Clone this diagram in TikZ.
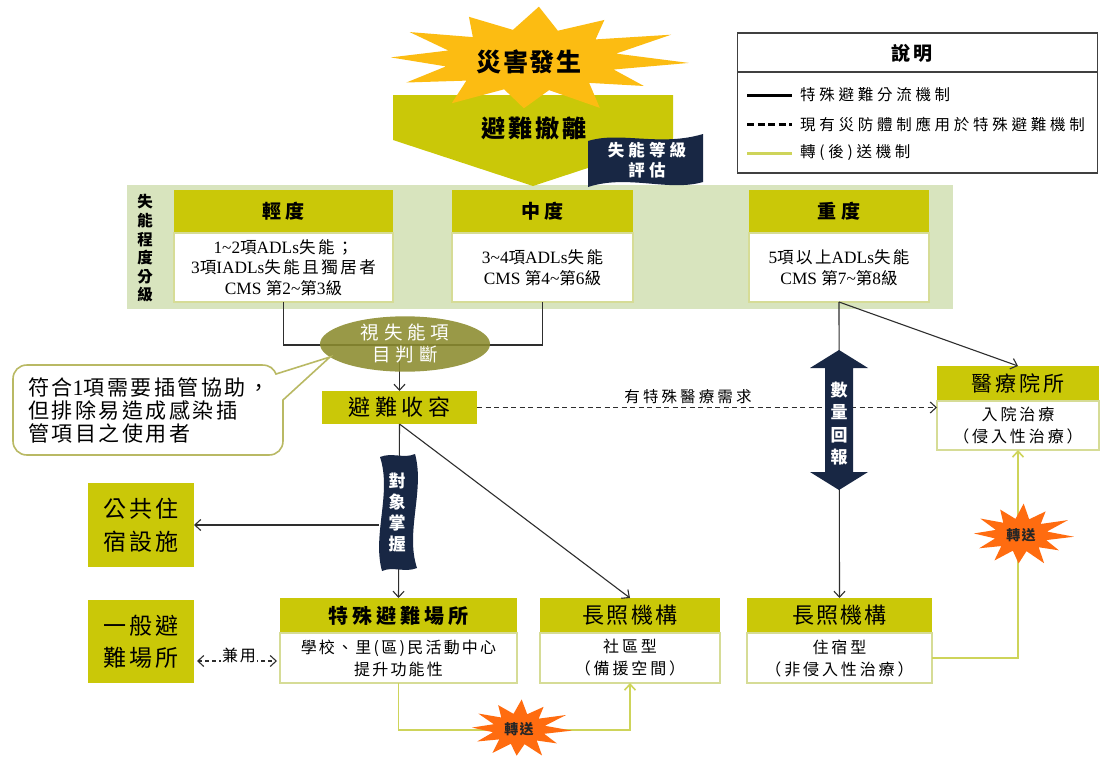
\documentclass[tikz,border=0pt]{standalone}
\usepackage{fontspec}
\setmainfont{Noto Sans CJK TC}
\newfontfamily\latfont{Liberation Serif}[Scale=1.05]
\usetikzlibrary{arrows.meta,shapes.geometric}
\newcommand\fs[3]{\fontsize{#1}{#2}\selectfont\addfontfeatures{LetterSpace=#3}}
\newcommand\burstshape[6]{%
  \fill[#5] plot[samples at={0,...,23}, variable=\k]
   ({#1+#3*ifthenelse(mod(\k,2)==0,1-0.15*abs(sin(\k*41)),#6)*cos(\k*15+3)},
    {#2+#4*ifthenelse(mod(\k,2)==0,1-0.15*abs(sin(\k*41)),#6)*sin(\k*15+3)}) -- cycle;}
\definecolor{oy}{RGB}{202,200,8}
\definecolor{panelg}{RGB}{216,228,190}
\definecolor{bline}{RGB}{214,220,150}
\definecolor{ellc}{RGB}{140,140,46}
\definecolor{navy}{RGB}{24,39,68}
\definecolor{burstY}{RGB}{252,188,18}
\definecolor{burstO}{RGB}{255,108,16}
\definecolor{tline}{RGB}{206,212,90}
\definecolor{callb}{RGB}{185,185,100}
\begin{document}
\begin{tikzpicture}[x=1pt,y=-1pt,
  hdr/.style={fill=oy, inner sep=0pt, outer sep=0pt, align=center},
  bodyb/.style={fill=white, draw=bline, line width=1.2pt, inner sep=0pt, outer sep=0pt, align=center},
  conn/.style={draw=black!82, line width=1.1pt},
  arr/.style={conn, -{Straight Barb[length=6pt,width=11pt]}},
  dashc/.style={conn, dash pattern=on 5pt off 3.5pt},
  tarr/.style={draw=tline, line width=1.6pt, -{Straight Barb[length=6pt,width=11pt]}},
  wtxt/.style={text=white, inner sep=0pt, align=center},
  burstlbl/.style={font=\bfseries\fs{14}{16}{10}, text=black!85, inner sep=0pt}]
\useasboundingbox (0,0) rectangle (1100,758);
\fill[white] (0,0) rectangle (1100,758);

% legend
\draw[draw=black!75, line width=1.3pt] (737.5,33) rectangle (1097.5,173);
\draw[draw=black!75, line width=1.3pt] (737.5,72) -- (1097.5,72);
\node[font=\bfseries\fs{19}{22}{20}] (legt) at (912,53) {說明};
\draw[line width=3pt, black] (747,95) -- (792,95);
\draw[line width=3pt, black, dash pattern=on 7pt off 3.5pt] (747,124) -- (792,124);
\draw[line width=3pt, tline] (747,153) -- (792,153);
\node[anchor=west, inner sep=0pt, font=\fs{15.5}{18}{24}] (leg1) at (800,95) {特殊避難分流機制};
\node[anchor=west, inner sep=0pt, font=\fs{15.5}{18}{24}] (leg2) at (800,124) {現有災防體制應用於特殊避難機制};
\node[anchor=west, inner sep=0pt, font=\fs{15.5}{18}{24}] (leg3) at (800,153) {轉(後)送機制};

% panel
\fill[panelg] (127,185) rectangle (953,309);

% top arrow + burst
\fill[oy] (393,95) -- (673,95) -- (673,140) -- (533,186) -- (393,140) -- cycle;
\burstshape{531}{60}{158}{56}{burstY}{0.55}
\node[font=\bfseries\fs{25}{28}{6}] (disaster) at (529,62) {災害發生};
\node[font=\bfseries\fs{24}{28}{12}] (evac) at (534,128) {避難撤離};

% assessment banner
\fill[navy] (588,141) .. controls (620,131) and (660,147) .. (703,134) -- (703,182) .. controls (668,192) and (628,174) .. (588,187) -- cycle;
\node[wtxt, font=\bfseries\fs{16.5}{20}{25}] (assess) at (647,160) {失能等級\\評估};

% vertical label
\node[inner sep=0pt, align=center, font=\bfseries\fs{15.5}{18.6}{0}] (vlab) at (145,248.5) {失\\能\\程\\度\\分\\級};

% three levels
\node[hdr, minimum width=219pt, minimum height=43pt, font=\bfseries\fs{19}{22}{25}] (mildh) at (283.5,211.5) {輕度};
\node[bodyb, minimum width=219pt, minimum height=69pt, anchor=north, font=\fs{16.5}{20.5}{15}] (mildb) at (mildh.south)
 {{\latfont 1\textasciitilde2}項{\latfont ADLs}失能；\\{\latfont 3}項{\latfont IADLs}失能且獨居者\\{\latfont CMS\ }第{\latfont 2\textasciitilde}第{\latfont 3}級};
\node[hdr, minimum width=181pt, minimum height=43pt, font=\bfseries\fs{19}{22}{25}] (modh) at (542.5,211.5) {中度};
\node[bodyb, minimum width=181pt, minimum height=69pt, anchor=north, font=\fs{16.5}{20.5}{15}] (modb) at (modh.south)
 {{\latfont 3\textasciitilde4}項{\latfont ADLs}失能\\{\latfont CMS\ }第{\latfont 4\textasciitilde}第{\latfont 6}級};
\node[hdr, minimum width=180pt, minimum height=43pt, font=\bfseries\fs{19}{22}{25}] (sevh) at (839,211.5) {重度};
\node[bodyb, minimum width=180pt, minimum height=69pt, anchor=north, font=\fs{16.5}{20.5}{15}] (sevb) at (sevh.south)
 {{\latfont 5}項以上{\latfont ADLs}失能\\{\latfont CMS\ }第{\latfont 7\textasciitilde}第{\latfont 8}級};

% shelter
\node[hdr, minimum width=155pt, minimum height=33pt, font=\fs{22}{26}{20}] (shelter) at (399.5,407.5) {避難收容};

% merge lines
\coordinate (jy) at (0,345);
\draw[conn] (mildb.south) -- (mildb.south |- jy) -- (modb.south |- jy) -- (modb.south);
\draw[arr] (shelter.north |- jy) -- (shelter.north);
\node[ellipse, fill=ellc, fill opacity=0.88, text opacity=1, text=white, minimum width=170pt, minimum height=52pt, inner sep=0pt, align=center, font=\fs{18.5}{22}{26}] (judge) at (405,344) {視失能項\\目判斷};

% callout
\draw[draw=callb, fill=white, line width=1.6pt] (283,400) -- (283,441) .. controls (283,449) and (277,455) .. (269,455) -- (27,455) .. controls (19,455) and (13,449) .. (13,441) -- (13,379) .. controls (13,371) and (19,365) .. (27,365) -- (262,365) .. controls (270,365) and (274,369) .. (276,374) -- (330,357) -- cycle;
\node[anchor=west, inner sep=0pt, align=left, font=\fs{21}{23}{12}] (calltxt) at (28,410) {符合{\latfont 1}項需要插管協助，\\但排除易造成感染插\\管項目之使用者};

% medical
\node[hdr, minimum width=162pt, minimum height=35pt, font=\fs{21}{25}{14}] (medh) at (1018,383.5) {醫療院所};
\node[bodyb, minimum width=162pt, minimum height=49pt, anchor=north, font=\fs{16}{22}{18}] (medb) at (medh.south) {入院治療\\（侵入性治療）};

% bottom boxes
\node[hdr, minimum width=106pt, minimum height=84pt, font=\fs{23}{33}{13}] (pub) at (141,525) {公共住\\宿設施};
\node[hdr, minimum width=106pt, minimum height=83pt, font=\fs{23}{32}{13}] (gen) at (141,641.5) {一般避\\難場所};
\node[hdr, minimum width=237pt, minimum height=35pt, font=\bfseries\fs{20}{24}{20}] (spbh) at (398.5,615.5) {特殊避難場所};
\node[bodyb, minimum width=237pt, minimum height=50pt, anchor=north, font=\fs{16}{22}{14}] (spbb) at (spbh.south) {學校、里(區)民活動中心\\提升功能性};
\node[hdr, minimum width=180pt, minimum height=35pt, font=\fs{22}{26}{10}] (ltc1h) at (630,615.5) {長照機構};
\node[bodyb, minimum width=180pt, minimum height=50pt, anchor=north, font=\fs{16}{22}{18}] (ltc1b) at (ltc1h.south) {社區型\\（備援空間）};
\node[hdr, minimum width=185pt, minimum height=35pt, font=\fs{22}{26}{10}] (ltc2h) at (839.5,615.5) {長照機構};
\node[bodyb, minimum width=185pt, minimum height=50pt, anchor=north, font=\fs{16}{22}{18}] (ltc2b) at (ltc2h.south) {住宿型\\（非侵入性治療）};

% connectors from severe
\draw[arr] (sevb.south) -- (ltc2h.north);
\draw[arr] (sevb.south) -- (medh.north);

% dashed special-medical line
\draw[dashc, -{Straight Barb[length=6pt,width=11pt]}] (shelter.east) -- (shelter.east -| medb.west);
\node[inner sep=0pt, font=\fs{15.5}{18}{20}] (needlbl) at (688,397) {有特殊醫療需求};

% quantity double arrow
\fill[navy] (839,350) -- (868,368) -- (853,368) -- (853,472) -- (868,472) -- (839,490) -- (810,472) -- (825,472) -- (825,368) -- (810,368) -- cycle;
\node[wtxt, font=\bfseries\fs{17}{22.3}{0}] (qty) at (839,423.5) {數\\量\\回\\報};

% shelter outgoing
\draw[arr] (shelter.south) -- (spbh.north);
\draw[arr] (shelter.south) -- (ltc1h.north);
\fill[navy] (380,457) .. controls (392,452) and (404,459) .. (415,454) .. controls (425,490) and (405,532) .. (417,568) .. controls (405,573) and (393,566) .. (382,571) .. controls (372,535) and (392,493) .. (380,457) -- cycle;
\node[wtxt, minimum width=36pt, minimum height=112pt, font=\bfseries\fs{17}{21}{0}] (tgt) at (397,512.5) {對\\象\\掌\\握};
\draw[arr] (tgt.west |- pub.east) -- (pub.east);

% shared use
\coordinate (sy) at (0,661);
\draw[conn, dash pattern=on 4pt off 3pt, {Straight Barb[length=6pt,width=11pt]}-{Straight Barb[length=6pt,width=11pt]}] ([xshift=3pt]gen.east |- sy) -- ([xshift=-3pt]spbh.west |- sy);
\node[fill=white, inner sep=1pt, font=\fs{16}{18}{12}] (share) at (239,655) {兼用};

% transfer lines
\coordinate (ty) at (0,730);
\draw[tarr] (spbb.south) -- (spbb.south |- ty) -- (ltc1b.south |- ty) -- (ltc1b.south);
\draw[tarr] (ltc2b.east) -| (medb.south);
\burstshape{519}{729}{53}{31}{burstO}{0.5}
\node[burstlbl] (tr1) at (519,729) {轉送};
\burstshape{1021}{535}{53}{33}{burstO}{0.5}
\node[burstlbl] (tr2) at (1021,535) {轉送};
\end{tikzpicture}
\end{document}
